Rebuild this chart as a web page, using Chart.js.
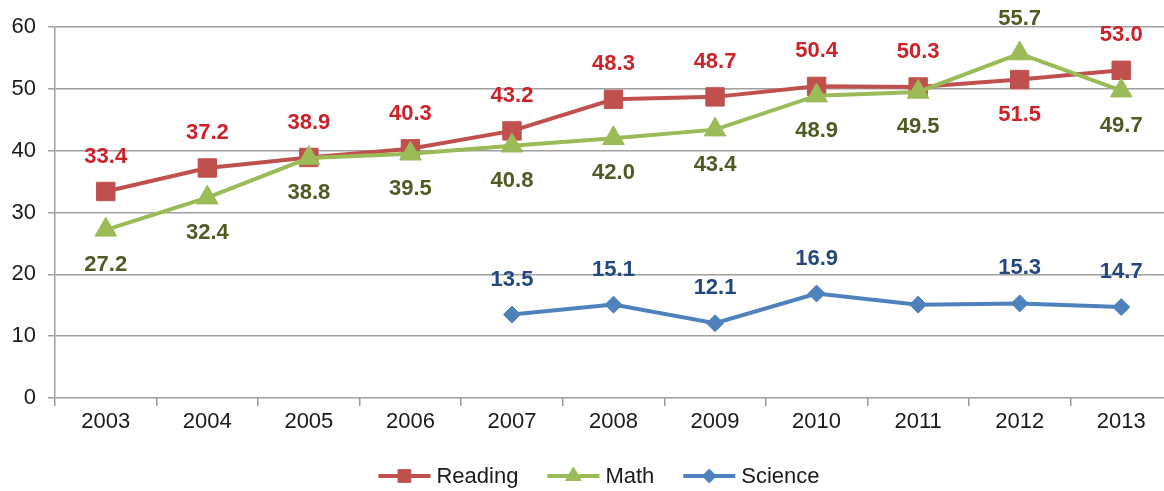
<!DOCTYPE html>
<html>
<head>
<meta charset="utf-8">
<script src="https://cdn.jsdelivr.net/npm/chart.js@4.4.1/dist/chart.umd.min.js"></script>
<style>
  html, body { margin: 0; padding: 0; background: #fff; overflow: hidden; }
  #wrap { width: 1164px; height: 491px; overflow: hidden; }
  canvas { display: block; }
</style>
</head>
<body>
<div id="wrap"><canvas id="chart" width="1186" height="491"></canvas></div>
<script>
const years = ['2003', '2004', '2005', '2006', '2007', '2008', '2009', '2010', '2011', '2012', '2013'];
const reading = [33.4, 37.2, 38.9, 40.3, 43.2, 48.3, 48.7, 50.4, 50.3, 51.5, 53.0];
const math = [27.2, 32.4, 38.8, 39.5, 40.8, 42.0, 43.4, 48.9, 49.5, 55.7, 49.7];
const science = [null, null, null, null, 13.5, 15.1, 12.1, 16.9, 15.1, 15.3, 14.7];
const yMin = 0, yMax = 60, yStep = 10;

const FONT = '"Liberation Sans", Arial, sans-serif';

// where each value label sits: above / below / none
const readingPos = ['up', 'up', 'up', 'up', 'up', 'up', 'up', 'up', 'up', 'down', 'up'];
const mathPos = ['down', 'down', 'down', 'down', 'down', 'down', 'down', 'down', 'down', 'up', 'down'];
const sciencePos = ['', '', '', '', 'up', 'up', 'up', 'up', '', 'up', 'up'];

const valueLabels = {
  id: 'valueLabels',
  afterDatasetsDraw(chart) {
    const ctx = chart.ctx;
    ctx.save();
    ctx.font = 'bold 22px ' + FONT;
    ctx.textAlign = 'center';
    ctx.textBaseline = 'middle';
    chart.data.datasets.forEach((ds, i) => {
      const meta = chart.getDatasetMeta(i);
      ctx.fillStyle = ds.labelColor;
      meta.data.forEach((pt, j) => {
        const v = ds.data[j];
        const pos = ds.labelPos[j];
        if (v == null || !pos) return;
        const dy = pos === 'up' ? -35 : 35;
        ctx.fillText(v.toFixed(1), pt.x, pt.y + dy);
      });
    });
    ctx.restore();
  }
};

const lineLegend = {
  id: 'lineLegend',
  afterDraw(chart) {
    const ctx = chart.ctx;
    const items = [0, 1, 2].map(i => chart.data.datasets[i]);
    ctx.save();
    ctx.font = '22px ' + FONT;
    ctx.textBaseline = 'middle';
    const lineW = 52, gap = 6, itemGap = 29;
    let total = 0;
    items.forEach((ds, k) => {
      total += lineW + gap + ctx.measureText(ds.label).width + (k < items.length - 1 ? itemGap : 0);
    });
    let x = 599 - total / 2;
    const y = 476;
    items.forEach(ds => {
      ctx.strokeStyle = ds.borderColor;
      ctx.lineWidth = 4;
      ctx.beginPath();
      ctx.moveTo(x, y);
      ctx.lineTo(x + lineW, y);
      ctx.stroke();
      ctx.fillStyle = ds.borderColor;
      ctx.lineWidth = 1;
      Chart.helpers.drawPoint(ctx, { pointStyle: ds.pointStyle, radius: ds.legendRadius, borderWidth: 1, rotation: 0 }, x + lineW / 2, y);
      ctx.fillStyle = '#1a1a1a';
      ctx.fillText(ds.label, x + lineW + gap, y + 1);
      x += lineW + gap + ctx.measureText(ds.label).width + itemGap;
    });
    ctx.restore();
  }
};

new Chart(document.getElementById('chart'), {
  type: 'line',
  data: {
    labels: years,
    datasets: [
      {
        label: 'Reading', data: reading, order: 2,
        borderColor: '#C0504D', backgroundColor: '#C0504D',
        borderWidth: 4, pointStyle: 'rect', pointRadius: 13, pointBorderWidth: 1,
        labelColor: '#cc2229', labelPos: readingPos, legendRadius: 9
      },
      {
        label: 'Math', data: math, order: 1,
        borderColor: '#9BBB59', backgroundColor: '#9BBB59',
        borderWidth: 4, pointStyle: 'triangle', pointRadius: 12.5, pointBorderWidth: 1,
        labelColor: '#4f5b24', labelPos: mathPos, legendRadius: 9
      },
      {
        label: 'Science', data: science, order: 0,
        borderColor: '#4F81BD', backgroundColor: '#4F81BD',
        borderWidth: 4, pointStyle: 'rectRot', pointRadius: 8.5, pointBorderWidth: 1,
        labelColor: '#24487e', labelPos: sciencePos, legendRadius: 7
      }
    ]
  },
  options: {
    responsive: false,
    animation: false,
    devicePixelRatio: 1,
    layout: { padding: { top: 27, left: 0, right: 0, bottom: 53 } },
    plugins: { legend: { display: false }, tooltip: { enabled: false } },
    scales: {
      x: {
        offset: true,
        grid: { display: true, drawOnChartArea: false, offset: true, tickLength: 8, color: '#999', lineWidth: 1.5 },
        border: { display: false },
        ticks: { font: { family: FONT, size: 22 }, color: '#1a1a1a', padding: 3, maxRotation: 0, autoSkip: false },
        afterFit(s) { s.height = 40; }
      },
      y: {
        min: yMin, max: yMax,
        grid: { color: '#a0a0a0', lineWidth: 1.5, tickLength: 7 },
        border: { display: true, color: '#a0a0a0', width: 1.5 },
        ticks: { stepSize: yStep, font: { family: FONT, size: 22 }, color: '#1a1a1a', padding: 12 },
        afterFit(s) { s.width = 55; }
      }
    }
  },
  plugins: [valueLabels, lineLegend]
});
</script>
</body>
</html>
